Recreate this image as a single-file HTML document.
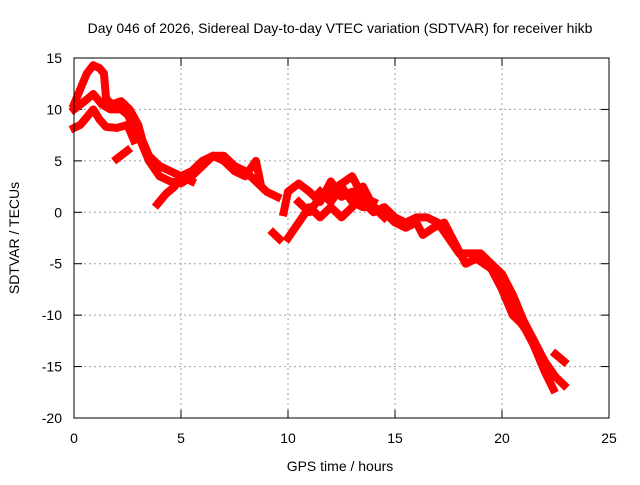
<!DOCTYPE html>
<html><head><meta charset="utf-8"><style>
body{margin:0;background:#fff}
svg text{font-family:"Liberation Sans",sans-serif;font-size:14px;fill:#000}
</style></head><body>
<svg width="640" height="480" xmlns="http://www.w3.org/2000/svg">
<rect width="640" height="480" fill="#fff"/>
<text x="340" y="33" text-anchor="middle">Day 046 of 2026, Sidereal Day-to-day VTEC variation (SDTVAR) for receiver hikb</text>
<g id="grid"></g>
<g id="ticks"></g>
<g id="series"></g>
<rect x="74" y="58" width="535" height="360" fill="none" stroke="#000" stroke-width="1"/>
<text x="340" y="471" text-anchor="middle">GPS time / hours</text>
<text transform="translate(19,238) rotate(-90)" text-anchor="middle">SDTVAR / TECUs</text>
</svg>
<script>
const xTicks=[0,5,10,15,20,25];
const yTicks=[15,10,5,0,-5,-10,-15,-20];
const trackA=[[0,10.5],[0.3,12],[0.6,13.5],[0.9,14.3],[1.2,14],[1.4,13.5],[1.5,11],[1.8,10.5],[2.2,10.8],[2.6,10],[3,8.5],[3.2,7],[3.5,5.5],[4,4.5],[4.5,4],[5,3.5],[5.5,4],[6,5],[6.5,5.5],[7,5.5],[7.5,4.5],[8,4],[8.5,3],[9,2],[9.5,1.5]];
const trackB=[[0,10],[0.5,10.8],[0.9,11.5],[1.3,10.5],[1.7,10],[2.2,10],[2.5,9.5],[3,7.5],[3.5,5],[4,3.5],[4.5,3],[5,2.8],[5.5,3.5],[6,4.5],[6.5,5.5],[7,5],[7.5,4],[8,3.5],[8.5,5],[8.7,3]];
const trackC=[[0,8.2],[0.3,8.5],[0.7,9.5],[0.9,10],[1.2,9],[1.5,8.3],[2,8.2],[2.5,8.5],[2.8,7]];
const trackD=[[2,5.2],[2.5,6]];
const trackE=[[3.9,0.8],[4.3,1.8],[4.7,2.5],[5,3.5],[5.5,3]];
const trackF=[[9.3,-2],[9.6,-2.6]];
const trackG=[[9.8,0],[10,2],[10.5,2.8],[11,2],[11.5,1],[12,3],[12.5,1.5],[13,2],[13.5,1],[14,0],[14.5,0.5],[15,-0.5],[15.5,-1],[16,-0.5],[16.5,-0.5],[17,-1],[17.5,-2.5],[18,-4],[18.5,-4],[19,-4],[19.5,-5],[20,-6],[20.5,-8],[21,-10.5],[21.5,-12.5],[22,-14.5],[22.5,-16],[22.9,-16.8]];
const trackH=[[10,-2.5],[10.5,-1],[11,0.5],[11.5,-0.5],[12,0.5],[12.5,-0.5],[13,0.5],[13.5,2.5],[14,0.5],[14.5,0],[15,-1],[15.5,-1.5],[16,-1],[16.3,-2.2],[16.8,-1.5],[17.3,-1],[17.8,-3],[18.3,-5],[18.8,-4.5],[19.5,-5.5],[20,-7.5],[20.5,-10],[21,-11],[21.5,-13],[22,-15.5],[22.4,-17.2]];
const trackI=[[10.5,1],[11,0],[11.5,1.5],[12.3,2.5],[13,3.5],[13.5,1.5],[14,1]];
const trackJ=[[20.2,-8.5],[20.8,-10.5],[21.3,-12],[21.8,-14.5]];
const trackK=[[22.5,-13.8],[22.9,-14.5]];
const trackL=[[11.5,2],[12,1],[12.5,2.5],[13,1],[13.5,0.5],[14,0.5],[14.5,-0.5]];
const tracks=[trackA,trackB,trackC,trackD,trackE,trackF,trackG,trackH,trackI,trackJ,trackK,trackL];
const NS="http://www.w3.org/2000/svg";
const X=v=>74+v*(535/25);
const Y=v=>58+(15-v)*(360/35);
function mk(t,a,p){const e=document.createElementNS(NS,t);for(const k in a)e.setAttribute(k,a[k]);p.appendChild(e);return e;}
const grid=document.getElementById('grid'),ticks=document.getElementById('ticks'),ser=document.getElementById('series');
xTicks.forEach(t=>{
 if(t>0&&t<25){const l=mk('line',{x1:X(t),x2:X(t),y1:58,y2:418,stroke:'#a0a0a0','stroke-dasharray':'2,3'},grid);
 }
 mk('line',{x1:X(t),x2:X(t),y1:418,y2:410,stroke:'#000'},ticks);
 mk('line',{x1:X(t),x2:X(t),y1:58,y2:66,stroke:'#000'},ticks);
 const tx=mk('text',{x:X(t),y:443,'text-anchor':'middle'},ticks);tx.textContent=t;
 
});
yTicks.forEach(t=>{
 if(t<15&&t>-20){const l=mk('line',{x1:74,x2:609,y1:Y(t),y2:Y(t),stroke:'#a0a0a0','stroke-dasharray':'2,3'},grid);
 }
 mk('line',{x1:74,x2:82,y1:Y(t),y2:Y(t),stroke:'#000'},ticks);
 mk('line',{x1:609,x2:601,y1:Y(t),y2:Y(t),stroke:'#000'},ticks);
 const tx=mk('text',{x:62,y:Y(t)+5,'text-anchor':'end'},ticks);tx.textContent=t;
 
});
tracks.forEach(tr=>{
 const p=mk('polyline',{points:tr.map(d=>X(d[0])+','+Y(d[1])).join(' '),fill:'none',stroke:'#ff0000','stroke-width':8,'stroke-linejoin':'round','stroke-linecap':'square'},ser);
 
 
});
</script>
</body></html>
